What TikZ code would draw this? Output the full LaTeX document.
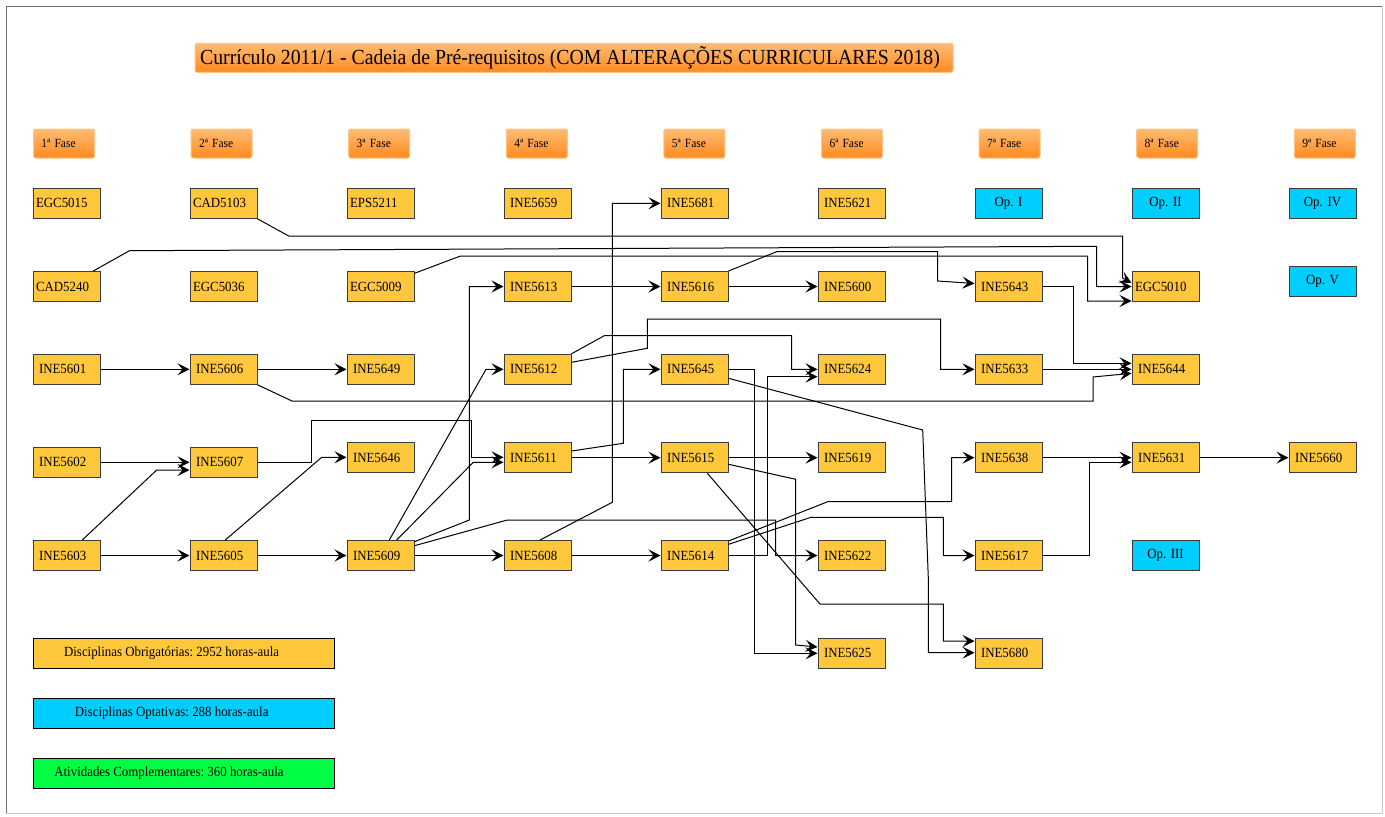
\documentclass[tikz,border=0pt]{standalone}
\usepackage{fontspec}
\setmainfont{Liberation Serif}[FakeStretch=0.92]
\usetikzlibrary{arrows.meta}
\frenchspacing
\definecolor{cgold}{RGB}{255,200,60}
\definecolor{ccyan}{RGB}{0,206,255}
\definecolor{cgreen}{RGB}{0,255,68}
\definecolor{oLight}{RGB}{255,188,115}
\definecolor{oDark}{RGB}{255,138,32}
\definecolor{oEdge}{RGB}{255,196,135}
\definecolor{bEdge}{RGB}{60,60,60}
\definecolor{frameDark}{RGB}{110,110,110}
\definecolor{frameLight}{RGB}{200,200,200}
\begin{document}
\begin{tikzpicture}[x=1pt,y=-1pt,
  course/.style={draw=bEdge, line width=1pt, fill=cgold, minimum height=30pt, inner ysep=0pt,
    inner xsep=6pt, text width=55pt, align=left, font=\fontsize{14}{16}\selectfont},
  wide/.style={inner xsep=3pt, text width=61pt},
  opt/.style={course, fill=ccyan, align=center, inner xsep=0pt, text width=67pt},
  fase/.style={draw=oEdge, line width=1pt, rounded corners=2pt, top color=oLight, bottom color=oDark,
    minimum height=29pt, inner xsep=8pt, text width=45pt, align=left, inner ysep=0pt,
    font=\fontsize{12.5}{14}\selectfont},
  titlebox/.style={draw=oEdge, line width=1pt, rounded corners=2pt, top color=oLight, bottom color=oDark,
    minimum width=758pt, minimum height=29pt, inner sep=0pt, font=\fontsize{21.5}{24}\selectfont},
  legbox/.style={draw=black, line width=1pt, minimum width=301pt, minimum height=30pt, inner sep=0pt},
  legtext/.style={inner sep=0pt, font=\fontsize{14}{16}\selectfont},
  arr/.style={-{Stealth[length=12pt,width=12pt,inset=5pt]}, line width=1pt, black}
]
\useasboundingbox (0,0) rectangle (1385,817);
\fill[white] (0,0) rectangle (1385,817);
\draw[line width=1pt, frameDark] (6,813) -- (6,6) -- (1382,6);
\draw[line width=1pt, frameLight] (1382,6) -- (1382,813) -- (6,813);

% title
\node[titlebox] (title) at (574,57.8) {\hspace*{-8pt}Currículo 2011/1 - Cadeia de Pré-requisitos (COM ALTERAÇÕES CURRICULARES 2018)};

% phase headers
\foreach \i in {1,...,9} {
  \node[fase] (f\i) at ({64+157.6*(\i-1)},143.5) {{\i}ª Fase};
}

% row 1
\node[course, wide] (n5015) at (66.5,203.3) {EGC5015};
\node[course, wide] (n5103) at (223.5,203.3) {CAD5103};
\node[course, wide] (n5211) at (380.5,203.3) {EPS5211};
\node[course] (n5659) at (537.5,203.3) {INE5659};
\node[course] (n5681) at (694.5,203.3) {INE5681};
\node[course] (n5621) at (851.5,203.3) {INE5621};
\node[opt] (op1) at (1008.5,203.3) {Op. I};
\node[opt] (op2) at (1165.5,203.3) {Op. II};
\node[opt] (op4) at (1322.5,203.3) {Op. IV};
% row 2
\node[course, wide] (n5240) at (66.5,286.5) {CAD5240};
\node[course, wide] (n5036) at (223.5,286.5) {EGC5036};
\node[course, wide] (n5009) at (380.5,286.5) {EGC5009};
\node[course] (n5613) at (537.5,286.5) {INE5613};
\node[course] (n5616) at (694.5,286.5) {INE5616};
\node[course] (n5600) at (851.5,286.5) {INE5600};
\node[course] (n5643) at (1008.5,286.5) {INE5643};
\node[course, wide] (n5010) at (1165.5,286.5) {EGC5010};
\node[opt] (op5) at (1322.5,281.5) {Op. V};
% row 3
\node[course] (n5601) at (66.5,369.3) {INE5601};
\node[course] (n5606) at (223.5,369.3) {INE5606};
\node[course] (n5649) at (380.5,369.3) {INE5649};
\node[course] (n5612) at (537.5,369.3) {INE5612};
\node[course] (n5645) at (694.5,369.3) {INE5645};
\node[course] (n5624) at (851.5,369.3) {INE5624};
\node[course] (n5633) at (1008.5,369.3) {INE5633};
\node[course] (n5644) at (1165.5,369.3) {INE5644};
% row 4
\node[course] (n5602) at (66.5,462.3) {INE5602};
\node[course] (n5607) at (223.5,462.3) {INE5607};
\node[course] (n5646) at (380.5,457.7) {INE5646};
\node[course] (n5611) at (537.5,457.7) {INE5611};
\node[course] (n5615) at (694.5,457.7) {INE5615};
\node[course] (n5619) at (851.5,457.7) {INE5619};
\node[course] (n5638) at (1008.5,457.7) {INE5638};
\node[course] (n5631) at (1165.5,457.7) {INE5631};
\node[course] (n5660) at (1322.5,457.7) {INE5660};
% row 5
\node[course] (n5603) at (66.5,555.5) {INE5603};
\node[course] (n5605) at (223.5,555.5) {INE5605};
\node[course] (n5609) at (380.5,555.5) {INE5609};
\node[course] (n5608) at (537.5,555.5) {INE5608};
\node[course] (n5614) at (694.5,555.5) {INE5614};
\node[course] (n5622) at (851.5,555.5) {INE5622};
\node[course] (n5617) at (1008.5,555.5) {INE5617};
\node[opt] (op3) at (1165.5,555.5) {Op. III};
% row 6
\node[course] (n5625) at (851.5,653.3) {INE5625};
\node[course] (n5680) at (1008.5,653.3) {INE5680};

% legend
\node[legbox, fill=cgold] (lg1) at (183.5,653.3) {};
\node[legtext] (lg1t) at (171.6,653.3) {Disciplinas Obrigatórias: 2952 horas-aula};
\node[legbox, fill=ccyan] (lg2) at (183.5,713.3) {};
\node[legtext] (lg2t) at (171.7,713.3) {Disciplinas Optativas: 288 horas-aula};
\node[legbox, fill=cgreen] (lg3) at (183.5,773.3) {};
\node[legtext] (lg3t) at (169,773.3) {Atividades Complementares: 360 horas-aula};

% connectors
\draw[arr] (n5601) -- (n5606);
\draw[arr] (n5606) -- (n5649);
\draw[arr] (n5606.south east) -- (292,401) -- (1093,401) -- (1093,377) -- (n5644.west |- 0,373.3);
\draw[arr] (n5602) -- (n5607);
\draw[arr] (n5603.north -| 82.3,0) -- (156.7,470) -- (n5607.west |- 0,470);
\draw[arr] (n5603) -- (n5605);
\draw[arr] (n5605) -- (n5609);
\draw[arr] (n5605.north -| 225.3,0) -- (321.7,457.3) -- (n5646.west |- 0,457.3);
\draw[arr] (n5607.east) -- (311.7,462.3) -- (311.7,420) -- (471,420) -- (471,457.3) -- (n5611.west |- 0,457.3);
\draw[arr] (n5609) -- (n5608);
\draw[arr] (n5609.north -| 389.3,0) -- (486,369.3) -- (n5612.west);
\draw[arr] (n5609.north -| 396.7,0) -- (473.3,462.3) -- (n5611.west |- 0,462.3);
\draw[arr] (n5609.east |- 0,541.7) -- (469.3,520) -- (469.3,286.5) -- (n5613.west);
\draw[arr] (n5609.east |- 0,545.7) -- (507.3,520) -- (775.7,520) -- (775.7,555.5) -- (n5622.west);
\draw[arr] (n5608) -- (n5614);
\draw[arr] (n5608.north -| 540,0) -- (612.3,502.3) -- (612.3,203.3) -- (n5681.west);
\draw[arr] (n5613) -- (n5616);
\draw[arr] (n5616) -- (n5600);
\draw[arr] (n5616.north east) -- (776.7,251.7) -- (937.5,251.7) -- (937.5,281) -- (n5643.west |- 0,283.5);
\draw[arr] (n5612.north east) -- (604.3,335.7) -- (791.5,335.7) -- (791.5,369.3) -- (n5624.west);
\draw[arr] (n5612.east |- 0,362.3) -- (647.3,348.3) -- (647.3,319) -- (940.5,319) -- (940.5,369.3) -- (n5633.west);
\draw[arr] (n5611) -- (n5615);
\draw[arr] (n5611.east |- 0,451) -- (623.3,443.3) -- (623.3,369.3) -- (n5645.west);
\draw[arr] (n5645.east) -- (754.3,369.3) -- (754.3,653.3) -- (n5625.west);
\draw[arr] (n5645.east |- 0,378.3) -- (922.7,430) -- (928.3,578) -- (928.3,652.7) -- (n5680.west |- 0,652.7);
\draw[arr] (n5615) -- (n5619);
\draw[arr] (n5615.east |- 0,464.3) -- (795.7,479.3) -- (795.7,645) -- (n5625.west |- 0,647);
\draw[arr] (n5615.south -| 707.3,0) -- (820,604) -- (943.3,604) -- (943.3,641) -- (n5680.west |- 0,641);
\draw[arr] (n5614.east) -- (767.5,555.5) -- (767.5,376.7) -- (n5624.west |- 0,376.7);
\draw[arr] (n5614.east |- 0,541) -- (827.7,501.7) -- (951.7,501.7) -- (951.7,457.7) -- (n5638.west);
\draw[arr] (n5614.east |- 0,544.3) -- (811,517.3) -- (943.3,517.3) -- (943.3,555.5) -- (n5617.west);
\draw[arr] (n5643.east) -- (1073.3,286.5) -- (1073.3,363.3) -- (n5644.west |- 0,363.3);
\draw[arr] (n5633) -- (n5644);
\draw[arr] (n5638) -- (n5631);
\draw[arr] (n5617.east) -- (1089.3,555.5) -- (1089.3,462.3) -- (n5631.west |- 0,462.3);
\draw[arr] (n5631) -- (n5660);
\draw[arr] (n5103.south east) -- (288.7,236) -- (1122.5,236) -- (1122.5,278) -- (n5010.west |- 0,283);
\draw[arr] (n5240.north -| 93.3,0) -- (129.5,250.7) -- (1096.7,246.3) -- (1096.7,286.5) -- (n5010.west);
\draw[arr] (n5009.east |- 0,273.3) -- (460.5,256) -- (1087.7,256) -- (1087.7,301) -- (n5010.west |- 0,301);
\end{tikzpicture}
\end{document}
